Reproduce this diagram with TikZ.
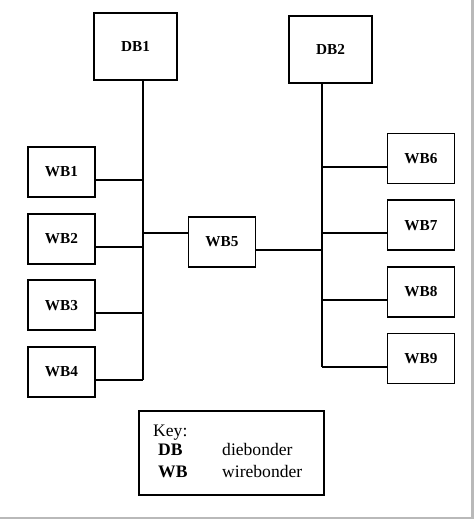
\documentclass[tikz,border=0pt]{standalone}
\usepackage{fontspec}
\setmainfont{Liberation Serif}
\usepackage{tikz}
\tikzstyle{dbbox} = [rectangle, minimum width=2.49cm, minimum height=2.01cm, draw=black, line width=1.6pt, font=\fontsize{13}{15}\selectfont\bfseries]
\tikzstyle{wbbox} = [rectangle, minimum width=2.01cm, minimum height=1.5cm, draw=black, line width=1.6pt, font=\fontsize{13}{15}\selectfont\bfseries]
\tikzstyle{keybox} = [rectangle, minimum width=5.55cm, minimum height=2.52cm, draw=black, line width=1.6pt]
\tikzstyle{keytext} = [anchor=base west, inner sep=0pt, font=\fontsize{15}{18}\selectfont]
\tikzstyle{wire} = [line width=1.6pt]

\begin{document}
\begin{tikzpicture}[x=0.03cm, y=-0.03cm, node distance=2cm]
\useasboundingbox (0,0) rectangle (474,519);
% scan frame
\fill [gray!55] (471,0) rectangle (474,519);
\fill [gray!55] (0,516.5) rectangle (474,519);

\node (db1) [dbbox] at (135.5,46.5) {DB1};
\node (db2) [dbbox] at (330.5,49.5) {DB2};
\node (wb1) [wbbox] at (61.5,172) {WB1};
\node (wb2) [wbbox, below of=wb1] {WB2};
\node (wb3) [wbbox, below of=wb2] {WB3};
\node (wb4) [wbbox, below of=wb3] {WB4};
\node (wb5) [wbbox] at (222,242) {WB5};
\node (wb6) [wbbox] at (421,158.5) {WB6};
\node (wb7) [wbbox, below of=wb6] {WB7};
\node (wb8) [wbbox, below of=wb7] {WB8};
\node (wb9) [wbbox, below of=wb8] {WB9};

% bus junctions
\coordinate (j1) at (143,180);
\coordinate (j2) at (143,247);
\coordinate (j3) at (143,313);
\coordinate (j4) at (143,380);
\coordinate (j5) at (143,233);
\coordinate (k5) at (322,250);
\coordinate (k6) at (322,167);
\coordinate (k7) at (322,233);
\coordinate (k8) at (322,300);
\coordinate (k9) at (322,367);

\draw [wire] (db1.south -| j4) -- (j4);
\draw [wire] (wb1.east |- j1) -- (j1);
\draw [wire] (wb2.east |- j2) -- (j2);
\draw [wire] (wb3.east |- j3) -- (j3);
\draw [wire] (wb4.east |- j4) -- (j4);
\draw [wire] (j5) -- (wb5.west |- j5);

\draw [wire] (db2.south -| k9) -- (k9);
\draw [wire] (wb5.east |- k5) -- (k5);
\draw [wire] (wb6.west |- k6) -- (k6);
\draw [wire] (wb7.west |- k7) -- (k7);
\draw [wire] (wb8.west |- k8) -- (k8);
\draw [wire] (wb9.west |- k9) -- (k9);

% key
\node (key) [keybox] at (231.5,453) {};
\node (keyhead) [keytext] at (153,436) {Key:};
\node (keydb) [keytext] at (158,455) {\textbf{DB}};
\node (keydbtxt) [keytext] at (222,455) {diebonder};
\node (keywb) [keytext] at (158,477) {\textbf{WB}};
\node (keywbtxt) [keytext] at (222,477) {wirebonder};
\end{tikzpicture}
\end{document}
